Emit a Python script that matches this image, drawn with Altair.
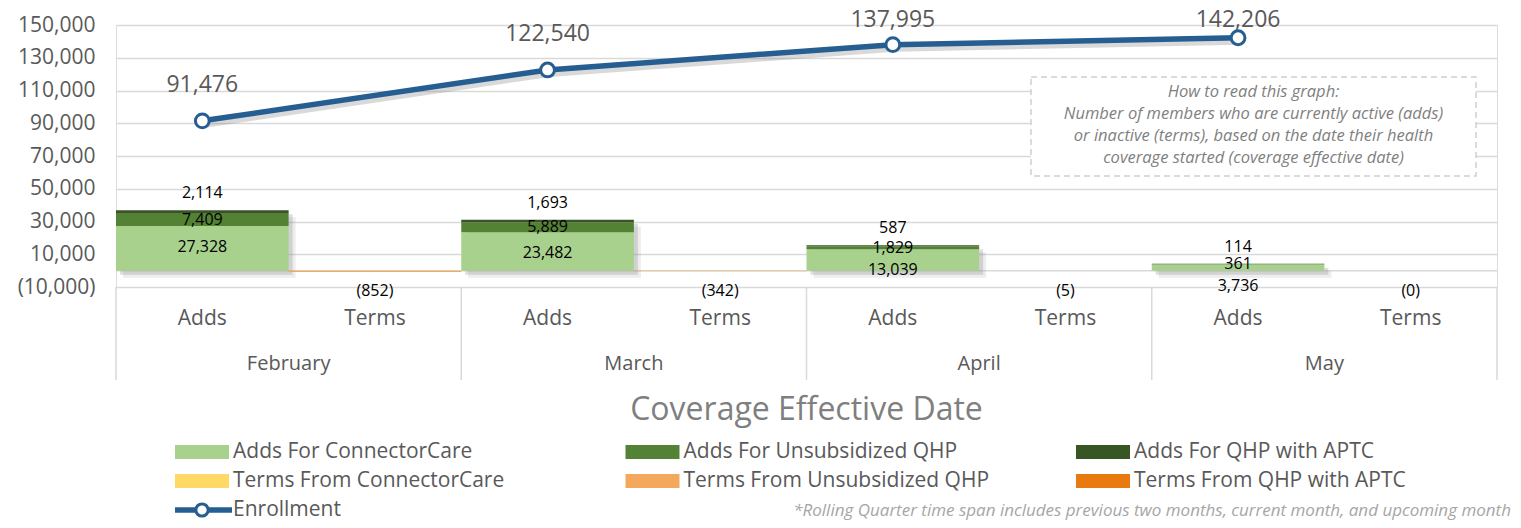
import altair as alt
import pandas as pd

# ---------------- data ----------------
months = ["February", "March", "April", "May"]
adds_connectorcare = [27328, 23482, 13039, 3736]
adds_unsubsidized = [7409, 5889, 1829, 361]
adds_aptc = [2114, 1693, 587, 114]
terms_total = [-852, -342, -5, 0]
enrollment = [91476, 122540, 137995, 142206]

series = ["Adds For ConnectorCare", "Adds For Unsubsidized QHP", "Adds For QHP with APTC",
          "Terms From ConnectorCare", "Terms From Unsubsidized QHP", "Terms From QHP with APTC"]
colors = ["#A9D18E", "#548235", "#375623", "#FFD966", "#F4A85E", "#E87A10"]
y_ticks = [-10000, 10000, 30000, 50000, 70000, 90000, 110000, 130000, 150000]
note_lines = ["How to read this graph:",
              "Number of members who are currently active (adds)",
              "or inactive (terms), based on the date their health",
              "coverage started (coverage effective date)"]
footnote = "*Rolling Quarter time span includes previous two months, current month, and upcoming month"
x_title = "Coverage Effective Date"

# ---------------- tables ----------------
slots = [f"{m}|{k}" for m in months for k in ["Adds", "Terms"]]
rows = []
for i, m in enumerate(months):
    for j, vals in enumerate([adds_connectorcare, adds_unsubsidized, adds_aptc]):
        rows.append({"slot": f"{m}|Adds", "kind": "Adds", "series": series[j], "order": j, "value": vals[i]})
    rows.append({"slot": f"{m}|Terms", "kind": "Terms", "series": series[4], "order": 4, "value": terms_total[i]})
bars = pd.DataFrame(rows)
enr = pd.DataFrame({"slot": [f"{m}|Adds" for m in months], "enrollment": enrollment})
mon = pd.DataFrame({"slot": [f"{m}|Terms" for m in months], "month": months})
sep = pd.DataFrame({"slot": [f"{m}|Adds" for m in months]})
leg = pd.DataFrame({"name": series, "color": colors, "i": list(range(len(series)))})

W, H = 1381, 262
GRAY = "#595959"
GRID = "#D9D9D9"
BLUE = "#265E92"
FONT = "Open Sans"

xscale = alt.Scale(domain=slots, paddingInner=0, paddingOuter=0)
xaxis = alt.Axis(labelExpr="split(datum.label, '|')[1]", labelAngle=0, labelFontSize=21,
                 labelColor=GRAY, labelPadding=31, labelBaseline="middle", domain=False,
                 ticks=False, grid=False, title=None, labelFont=FONT)
yscale = alt.Scale(domain=[-10000, 150000], nice=False, zero=False)
yaxis = alt.Axis(values=y_ticks,
                 labelExpr="datum.value < 0 ? '(' + format(-datum.value, ',') + ')' : format(datum.value, ',')",
                 labelFontSize=21, labelColor=GRAY, labelPadding=21, ticks=False, tickSize=0,
                 domain=False, grid=True, gridColor=GRID, gridWidth=1.5, title=None, labelFont=FONT)


def X(field="slot:N", band=0.5):
    return alt.X(field, scale=xscale, axis=xaxis, bandPosition=band, sort=slots)


def Y(field):
    return alt.Y(field, scale=yscale, axis=yaxis)


# shadows for add bars
shadow_base = alt.Chart(bars).transform_filter("datum.kind == 'Adds'").transform_aggregate(
    total="sum(value)", groupby=["slot"])
shadow1 = shadow_base.mark_bar(color="#7F7F7F", opacity=0.14, xOffset=7, yOffset=7, y2Offset=7).encode(
    x=X(), y=Y("total:Q"), y2=alt.datum(0))
shadow2 = shadow_base.mark_bar(color="#7F7F7F", opacity=0.25, xOffset=4, yOffset=4, y2Offset=4).encode(
    x=X(), y=Y("total:Q"), y2=alt.datum(0))

zero_rule = alt.Chart(pd.DataFrame({"z": [0]})).mark_rule(color=GRID, strokeWidth=1.5).encode(
    y=Y("z:Q"))

bar_layer = alt.Chart(bars).mark_bar().encode(
    x=X(),
    y=alt.Y("value:Q", scale=yscale, axis=yaxis, stack="zero"),
    color=alt.Color("series:N", scale=alt.Scale(domain=series, range=colors), legend=None),
    order=alt.Order("order:Q"),
)

stacked = alt.Chart(bars).transform_filter("datum.kind == 'Adds'").transform_stack(
    stack="value", as_=["v0", "v1"], groupby=["slot"], sort=[alt.SortField("order")]
).transform_calculate(mid="(datum.v0 + datum.v1) / 2", lab="format(datum.value, ',')")

lab_cc = stacked.transform_filter(f"datum.series == '{series[0]}'").mark_text(
    fontSize=16, color="black", dy=21, font=FONT).encode(x=X(), y=Y("v1:Q"), text="lab:N")
lab_un = stacked.transform_filter(f"datum.series == '{series[1]}'").mark_text(
    fontSize=16, color="black", dy=0, font=FONT).encode(x=X(), y=Y("mid:Q"), text="lab:N")
lab_ap = stacked.transform_filter(f"datum.series == '{series[2]}'").mark_text(
    fontSize=16, color="black", dy=-17, font=FONT).encode(x=X(), y=Y("v1:Q"), text="lab:N")

lab_terms = alt.Chart(bars).transform_filter("datum.kind == 'Terms'").transform_calculate(
    lab="'(' + format(abs(datum.value), ',') + ')'"
).mark_text(fontSize=16, color="black", dy=4, baseline="middle", font=FONT).encode(
    x=X(), y=alt.value(H), text="lab:N")

# enrollment line
line_shadow = alt.Chart(enr).mark_line(color="#808080", opacity=0.3, strokeWidth=6, xOffset=2, yOffset=4).encode(
    x=X(), y=Y("enrollment:Q"))
line = alt.Chart(enr).mark_line(color=BLUE, strokeWidth=5.5).encode(x=X(), y=Y("enrollment:Q"))
pts = alt.Chart(enr).mark_point(filled=True, fill="white", stroke=BLUE, strokeWidth=3,
                                size=190, opacity=1).encode(x=X(), y=Y("enrollment:Q"))
# labels sit above each point but are kept inside the chart's top edge
pt_lab = alt.Chart(enr).transform_calculate(
    ly="min(datum.enrollment + 22000, 153000)"
).mark_text(fontSize=23, color=GRAY, font=FONT).encode(
    x=X(), y=Y("ly:Q"), text=alt.Text("enrollment:Q", format=","))

# category box separators and month labels
seps = alt.Chart(sep).mark_rule(color=GRID, strokeWidth=1.5).encode(
    x=X(band=0), y=alt.value(H), y2=alt.value(H + 93))
sep_end = alt.Chart(pd.DataFrame({"a": [0]})).mark_rule(color=GRID, strokeWidth=1.5).encode(
    x=alt.value(W), y=alt.value(H), y2=alt.value(H + 93))
mon_lab = alt.Chart(mon).mark_text(fontSize=20, color=GRAY, font=FONT).encode(
    x=X(band=0), y=alt.value(339), text="month:N")

title_t = alt.Chart(pd.DataFrame({"t": [x_title]})).mark_text(
    fontSize=32, color="#7F7F7F", font=FONT).encode(x=alt.value(W / 2), y=alt.value(385), text="t:N")

# note box
note_box = alt.Chart(pd.DataFrame({"a": [0]})).mark_rect(
    fill="white", stroke="#D0D0D0", strokeDash=[6, 4], strokeWidth=1.5).encode(
    x=alt.value(915), x2=alt.value(1360), y=alt.value(52), y2=alt.value(151))
note_txt = alt.Chart(pd.DataFrame({"a": [0]})).mark_text(
    text=note_lines, fontSize=16.5, fontStyle="italic", color="#7F7F7F", lineHeight=22,
    baseline="top", font=FONT).encode(x=alt.value(1137.5), y=alt.value(59))

foot = alt.Chart(pd.DataFrame({"t": [footnote]})).mark_text(
    fontSize=17, fontStyle="italic", color="#A6A6A6", align="right", baseline="middle",
    font=FONT).encode(x=alt.value(W + 14), y=alt.value(486), text="t:N")

# legend (manual)
legb = alt.Chart(leg).transform_calculate(
    lx="59 + (datum.i % 3) * 450.5", lx2="113 + (datum.i % 3) * 450.5",
    ly="427 + floor(datum.i / 3) * 29", ly0="420 + floor(datum.i / 3) * 29",
    ly1="434 + floor(datum.i / 3) * 29", tx="117 + (datum.i % 3) * 450.5")
leg_sq = legb.mark_rect().encode(
    x=alt.X("lx:Q", scale=None, axis=None), x2="lx2:Q",
    y=alt.Y("ly0:Q", scale=None, axis=None), y2="ly1:Q",
    color=alt.Color("color:N", scale=None))
leg_tx = legb.mark_text(align="left", baseline="middle", fontSize=21, color=GRAY, font=FONT).encode(
    x=alt.X("tx:Q", scale=None, axis=None), y=alt.Y("ly:Q", scale=None, axis=None), text="name:N")
enr_leg_line = alt.Chart(pd.DataFrame({"a": [0]})).mark_rule(color=BLUE, strokeWidth=5.5).encode(
    x=alt.value(59), x2=alt.value(116), y=alt.value(485))
enr_leg_pt = alt.Chart(pd.DataFrame({"a": [0]})).mark_point(
    filled=True, fill="white", stroke=BLUE, strokeWidth=3, size=150, opacity=1).encode(
    x=alt.value(86), y=alt.value(485))
enr_leg_tx = alt.Chart(pd.DataFrame({"t": ["Enrollment"]})).mark_text(
    align="left", baseline="middle", fontSize=21, color=GRAY, font=FONT).encode(
    x=alt.value(117), y=alt.value(485), text="t:N")

chart = alt.layer(
    zero_rule, shadow1, shadow2, bar_layer, lab_cc, lab_un, lab_ap, lab_terms,
    seps, sep_end, mon_lab, title_t, note_box, note_txt,
    line_shadow, line, pts, pt_lab, foot,
    leg_sq, leg_tx, enr_leg_line, enr_leg_pt, enr_leg_tx,
).properties(
    width=W, height=H,
    autosize=alt.AutoSizeParams(type="none"),
    padding={"left": 108, "top": 17, "right": 16, "bottom": 233},
).configure_view(stroke=None).configure(font=FONT)

chart.save("out.html", embed_options={"renderer": "svg", "actions": False})
